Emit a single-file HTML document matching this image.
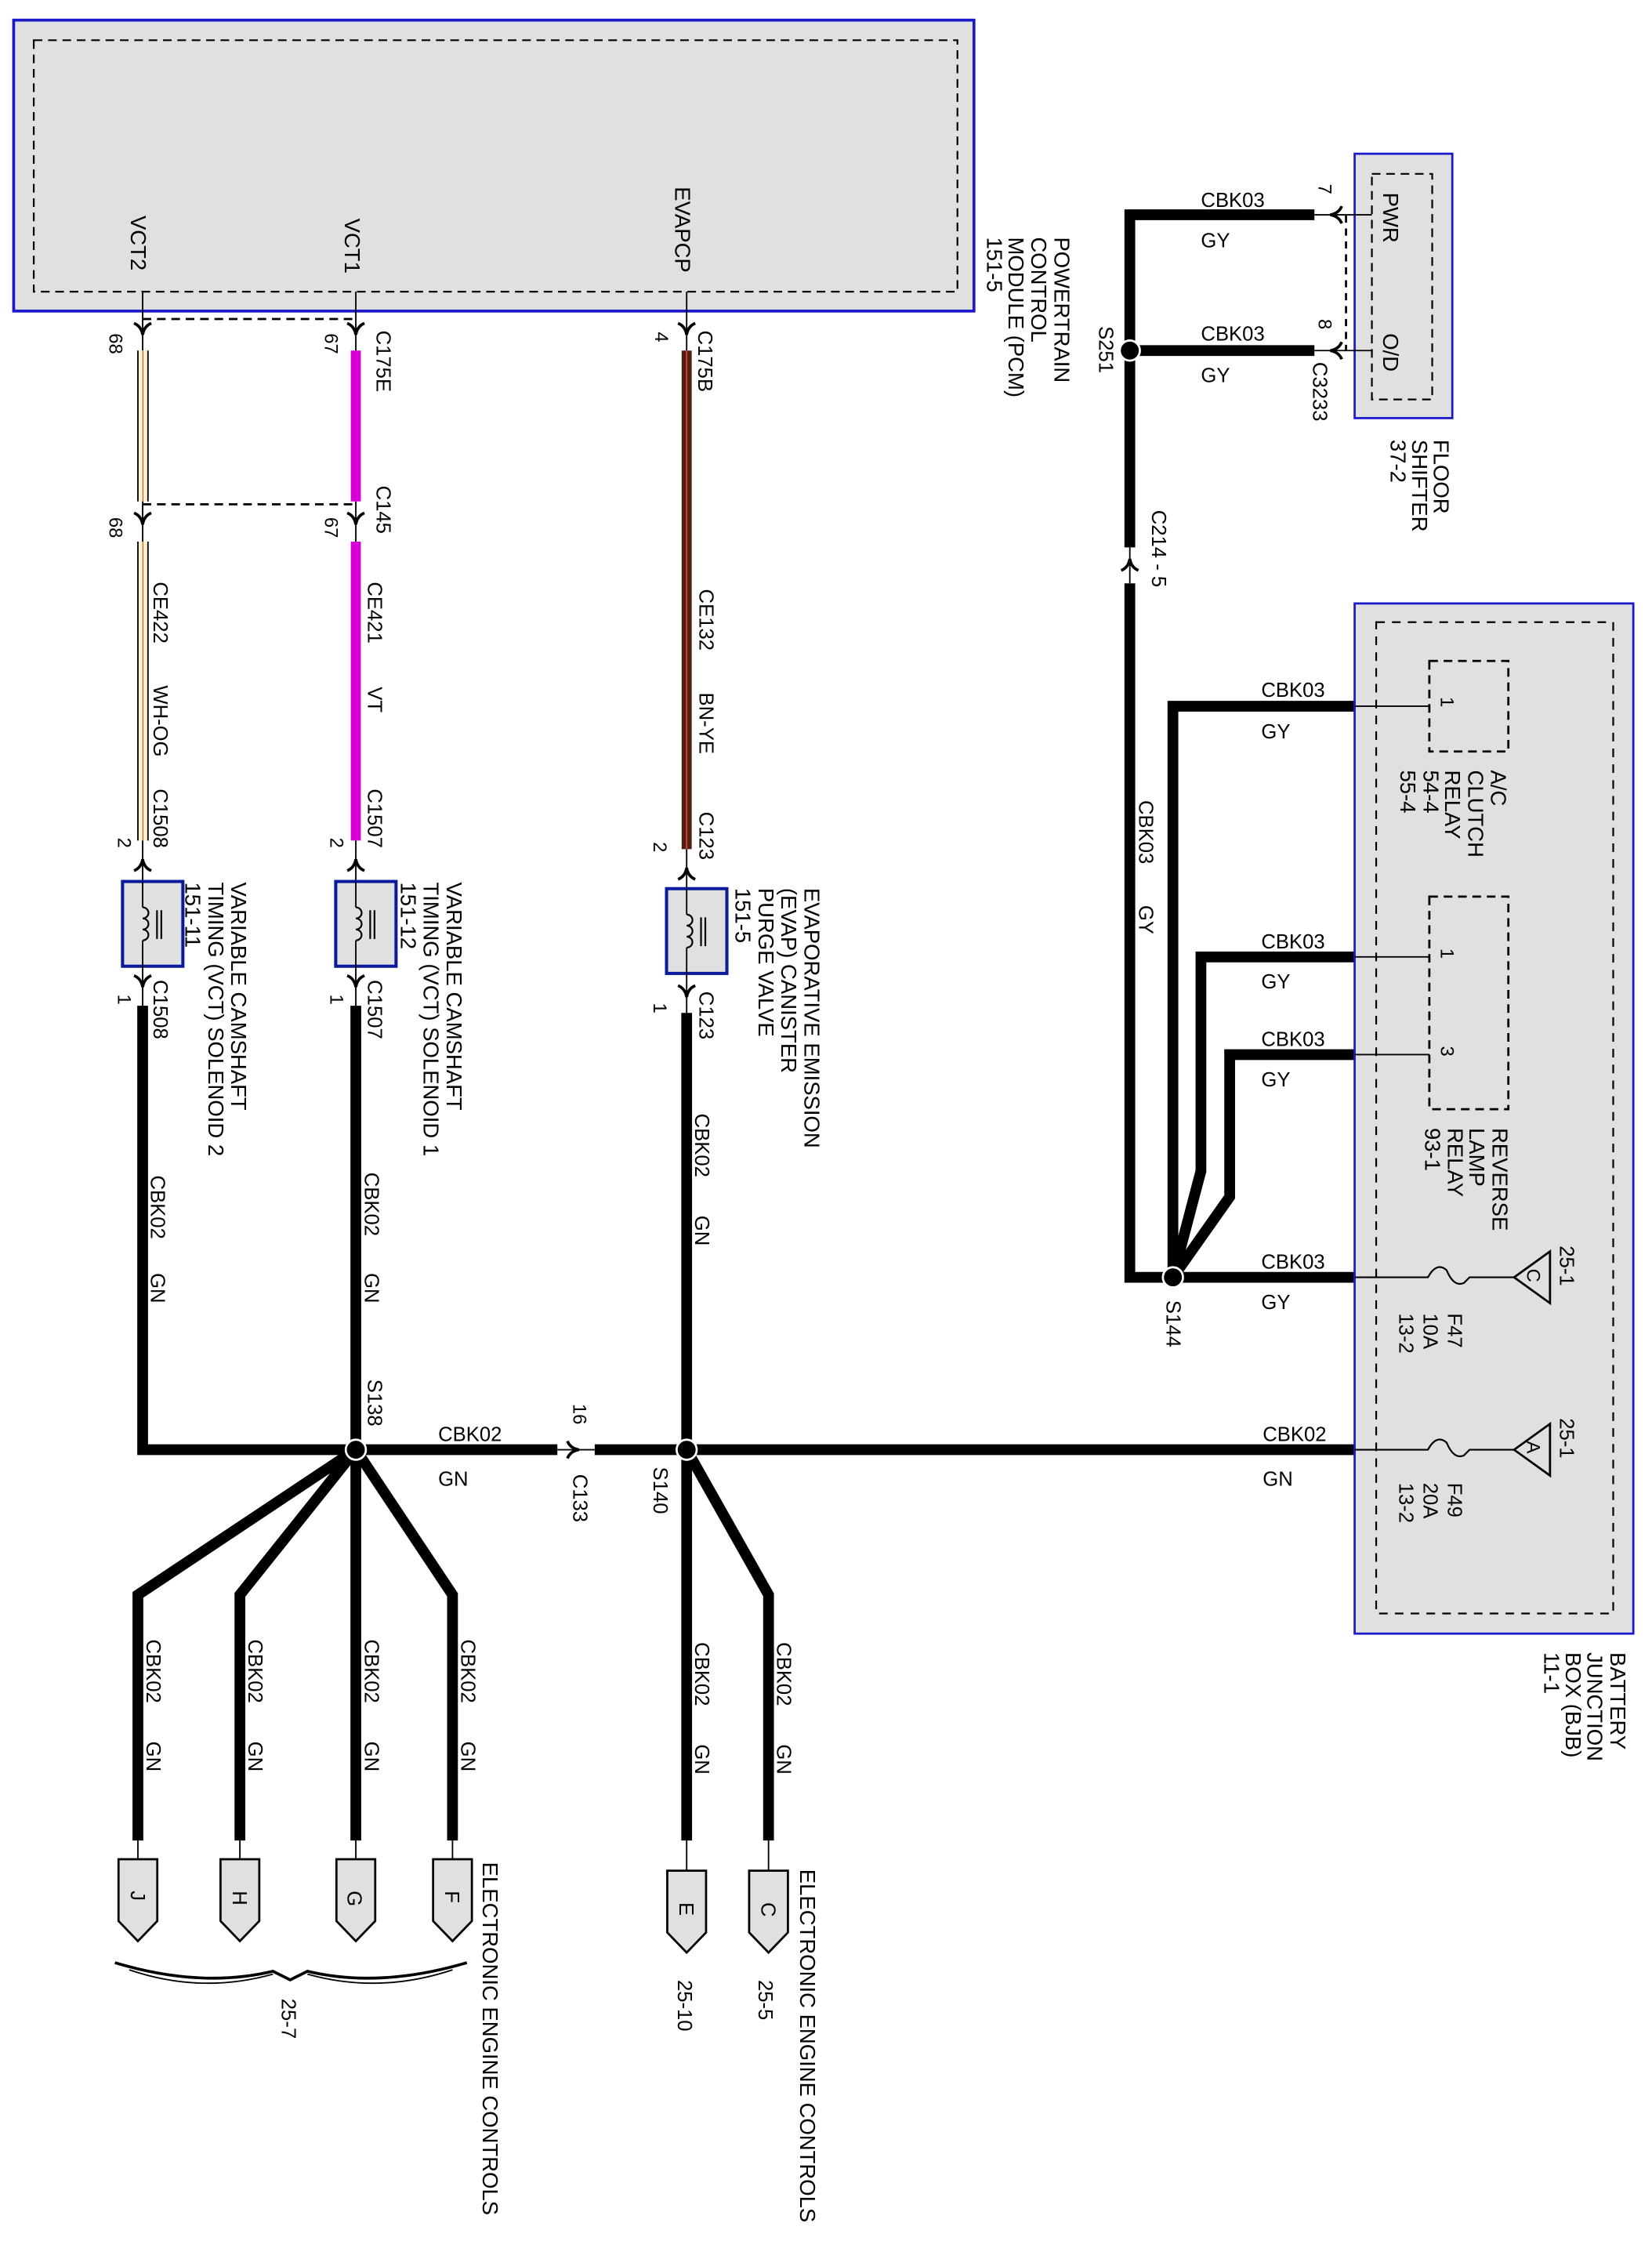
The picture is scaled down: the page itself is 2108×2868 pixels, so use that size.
<!DOCTYPE html>
<html><head><meta charset="utf-8"><style>
html,body{margin:0;padding:0;background:#fff}
svg{display:block}
text{font-family:"Liberation Sans",sans-serif;fill:#000}
.l{font-size:15px}
.w{font-size:14px}
.p{font-size:13px}
</style></head><body>
<svg width="2108" height="2868" viewBox="0 0 1150 1564.6" preserveAspectRatio="none" xmlns="http://www.w3.org/2000/svg">
<defs>
<g id="ad"><path d="M-6,-5 Q-1,-3 0,3 Q1,-3 6,-5" fill="none" stroke="#000" stroke-width="2"/></g>
<g id="au"><path d="M-6,5 Q-1,3 0,-3 Q1,3 6,5" fill="none" stroke="#000" stroke-width="2"/></g>
<g id="al"><path d="M5,-6 Q3,-1 -3,0 Q3,1 5,6" fill="none" stroke="#000" stroke-width="2"/></g>
<g id="ar"><path d="M-5,-6 Q-3,-1 3,0 Q-3,1 -5,6" fill="none" stroke="#000" stroke-width="2"/></g>
<g id="sol">
<rect x="-21" y="0" width="42" height="59" fill="#e0e0e0" stroke="#0a1a9a" stroke-width="2.2"/>
<path d="M-7,0 V18 M-7,41 V59" stroke="#000" stroke-width="1"/>
<path d="M-7,18 a4,3.8 0 0 1 0,7.7 a4,3.8 0 0 1 0,7.7 a4,3.8 0 0 1 0,7.6" fill="none" stroke="#000" stroke-width="1.2"/>
<path d="M3,20 V40 M6,20 V40" stroke="#000" stroke-width="1.2"/>
</g>
<g id="pent"><path d="M-13.5,0 H13.5 V43 L0,57 L-13.5,43 Z" fill="#e0e0e0" stroke="#000" stroke-width="1.5"/></g>
</defs>

<!-- PCM -->
<rect x="9.5" y="14" width="668.5" height="202.5" fill="#e0e0e0" stroke="#1a1acc" stroke-width="2"/>
<rect x="23.5" y="28" width="643" height="175" fill="none" stroke="#000" stroke-width="1.2" stroke-dasharray="6,4"/>
<text class="l" transform="translate(91,150) rotate(90)">VCT2</text>
<text class="l" transform="translate(240,152) rotate(90)">VCT1</text>
<text class="l" transform="translate(470,130) rotate(90)">EVAPCP</text>
<text class="l" transform="translate(734,165) rotate(90)">POWERTRAIN</text>
<text class="l" transform="translate(718,165) rotate(90)">CONTROL</text>
<text class="l" transform="translate(702,165) rotate(90)">MODULE (PCM)</text>
<text class="l" transform="translate(687,165) rotate(90)">151-5</text>

<path d="M99.3,203 V244 M247.7,203 V244 M478,203 V244" stroke="#000" stroke-width="1"/>
<path d="M99.3,222 H247.7" stroke="#000" stroke-width="1.5" stroke-dasharray="6,4"/>
<use href="#ad" x="99.3" y="230"/><use href="#ad" x="247.7" y="230"/><use href="#ad" x="478" y="230"/>
<text class="p" transform="translate(76,232) rotate(90)">68</text>
<text class="p" transform="translate(226,232) rotate(90)">67</text>
<text class="p" transform="translate(456,231) rotate(90)">4</text>
<text class="w" transform="translate(262,230) rotate(90)">C175E</text>
<text class="w" transform="translate(486,230) rotate(90)">C175B</text>

<rect x="96" y="244" width="7" height="105" fill="#fff3dc"/>
<path d="M96,244 V349 M103,244 V349" stroke="#000" stroke-width="1"/>
<path d="M99.5,244 V349" stroke="#e07020" stroke-width="0.8"/>
<rect x="244.2" y="244" width="7" height="105" fill="#d600d6"/>
<path d="M99.3,349 V377 M247.7,349 V377" stroke="#000" stroke-width="1"/>
<path d="M99.3,351 H247.7" stroke="#000" stroke-width="1.5" stroke-dasharray="6,4"/>
<use href="#ad" x="99.3" y="362"/><use href="#ad" x="247.7" y="362"/>
<text class="p" transform="translate(76,360) rotate(90)">68</text>
<text class="p" transform="translate(226,360) rotate(90)">67</text>
<text class="w" transform="translate(262,338) rotate(90)">C145</text>

<rect x="96" y="377" width="7" height="208" fill="#fff3dc"/>
<path d="M96,377 V585 M103,377 V585" stroke="#000" stroke-width="1"/>
<path d="M99.5,377 V585" stroke="#e07020" stroke-width="0.8"/>
<rect x="244.2" y="377" width="7" height="208" fill="#d600d6"/>
<rect x="474.5" y="244" width="7" height="347" fill="#4a2014"/>
<path d="M478,244 V591" stroke="#d04020" stroke-width="1.2"/>
<text class="w" transform="translate(107,405) rotate(90)">CE422</text>
<text class="w" transform="translate(107,477) rotate(90)">WH-OG</text>
<text class="w" transform="translate(107,549) rotate(90)">C1508</text>
<text class="w" transform="translate(256,405) rotate(90)">CE421</text>
<text class="w" transform="translate(256,478) rotate(90)">VT</text>
<text class="w" transform="translate(256,549) rotate(90)">C1507</text>
<text class="w" transform="translate(487,410) rotate(90)">CE132</text>
<text class="w" transform="translate(487,482) rotate(90)">BN-YE</text>
<text class="w" transform="translate(487,565) rotate(90)">C123</text>

<path d="M99.3,585 V613 M247.7,585 V613 M478,591 V618" stroke="#000" stroke-width="1"/>
<use href="#au" x="99.3" y="601"/><use href="#au" x="247.7" y="601"/><use href="#au" x="478" y="607"/>
<text class="p" transform="translate(82,583) rotate(90)">2</text>
<text class="p" transform="translate(230,583) rotate(90)">2</text>
<text class="p" transform="translate(455,586) rotate(90)">2</text>
<use href="#sol" x="106.3" y="613.5"/>
<use href="#sol" x="254.7" y="613.5"/>
<use href="#sol" x="485" y="618.5"/>
<path d="M99.3,672 V700 M247.7,672 V700 M478,678 V705" stroke="#000" stroke-width="1"/>
<use href="#ad" x="99.3" y="684"/><use href="#ad" x="247.7" y="684"/><use href="#ad" x="478" y="691"/>
<text class="p" transform="translate(82,692) rotate(90)">1</text>
<text class="p" transform="translate(230,692) rotate(90)">1</text>
<text class="p" transform="translate(455,698) rotate(90)">1</text>
<text class="w" transform="translate(107,682) rotate(90)">C1508</text>
<text class="w" transform="translate(256,682) rotate(90)">C1507</text>
<text class="w" transform="translate(487,690) rotate(90)">C123</text>
<text class="l" transform="translate(161,614) rotate(90)">VARIABLE CAMSHAFT</text>
<text class="l" transform="translate(145,614) rotate(90)">TIMING (VCT) SOLENOID 2</text>
<text class="l" transform="translate(129,614) rotate(90)">151-11</text>
<text class="l" transform="translate(311,614) rotate(90)">VARIABLE CAMSHAFT</text>
<text class="l" transform="translate(295,614) rotate(90)">TIMING (VCT) SOLENOID 1</text>
<text class="l" transform="translate(279,614) rotate(90)">151-12</text>
<text class="l" transform="translate(560,618) rotate(90)">EVAPORATIVE EMISSION</text>
<text class="l" transform="translate(544,618) rotate(90)">(EVAP) CANISTER</text>
<text class="l" transform="translate(528,618) rotate(90)">PURGE VALVE</text>
<text class="l" transform="translate(512,618) rotate(90)">151-5</text>

<g stroke="#000" stroke-width="7.5" fill="none" stroke-linejoin="miter">
<path d="M99.3,700 V1009 H388"/>
<path d="M247.7,700 V1009"/>
<path d="M478,705 V1009"/>
<path d="M414,1009 H943"/>
<path d="M247.7,1009 L96,1110 V1281"/>
<path d="M247.7,1009 L167,1110 V1281"/>
<path d="M247.7,1009 V1281"/>
<path d="M247.7,1009 L315,1110 V1281"/>
<path d="M478,1009 V1281"/>
<path d="M478,1009 L535,1110 V1281"/>
</g>
<path d="M388,1009 H414" stroke="#000" stroke-width="1"/>
<use href="#ar" x="400" y="1009"/>
<circle cx="247.7" cy="1009" r="7" fill="#000" stroke="#fff" stroke-width="1.5"/>
<circle cx="478" cy="1009" r="7" fill="#000" stroke="#fff" stroke-width="1.5"/>
<text class="w" transform="translate(105,818) rotate(90)">CBK02</text>
<text class="w" transform="translate(105,886) rotate(90)">GN</text>
<text class="w" transform="translate(254,816) rotate(90)">CBK02</text>
<text class="w" transform="translate(254,886) rotate(90)">GN</text>
<text class="w" transform="translate(484,775) rotate(90)">CBK02</text>
<text class="w" transform="translate(484,846) rotate(90)">GN</text>
<text class="w" transform="translate(256,960) rotate(90)">S138</text>
<text class="p" transform="translate(399,977) rotate(90)">16</text>
<text class="w" transform="translate(399,1026) rotate(90)">C133</text>
<text class="w" transform="translate(455,1021) rotate(90)">S140</text>
<text class="w" x="305" y="1003">CBK02</text>
<text class="w" x="305" y="1034">GN</text>
<text class="w" x="879" y="1003">CBK02</text>
<text class="w" x="879" y="1034">GN</text>

<text class="w" transform="translate(102,1141) rotate(90)">CBK02</text>
<text class="w" transform="translate(102,1212) rotate(90)">GN</text>
<text class="w" transform="translate(173,1141) rotate(90)">CBK02</text>
<text class="w" transform="translate(173,1212) rotate(90)">GN</text>
<text class="w" transform="translate(254,1141) rotate(90)">CBK02</text>
<text class="w" transform="translate(254,1212) rotate(90)">GN</text>
<text class="w" transform="translate(321,1141) rotate(90)">CBK02</text>
<text class="w" transform="translate(321,1212) rotate(90)">GN</text>
<text class="w" transform="translate(484,1143) rotate(90)">CBK02</text>
<text class="w" transform="translate(484,1214) rotate(90)">GN</text>
<text class="w" transform="translate(541,1143) rotate(90)">CBK02</text>
<text class="w" transform="translate(541,1214) rotate(90)">GN</text>

<path d="M96,1281 V1294 M167,1281 V1294 M247.7,1281 V1294 M315,1281 V1294 M478,1281 V1302 M535,1281 V1302" stroke="#000" stroke-width="1"/>
<use href="#pent" x="96" y="1294"/><use href="#pent" x="167" y="1294"/><use href="#pent" x="247.7" y="1294"/><use href="#pent" x="315" y="1294"/>
<use href="#pent" x="478" y="1302"/><use href="#pent" x="535" y="1302"/>
<text class="w" transform="translate(91,1316) rotate(90)">J</text>
<text class="w" transform="translate(162,1316) rotate(90)">H</text>
<text class="w" transform="translate(242,1316) rotate(90)">G</text>
<text class="w" transform="translate(310,1316) rotate(90)">F</text>
<text class="w" transform="translate(473,1324) rotate(90)">E</text>
<text class="w" transform="translate(530,1324) rotate(90)">C</text>
<path d="M80,1366 Q140,1384 190,1372 L202,1378 L214,1372 Q264,1384 325,1366" fill="none" stroke="#000" stroke-width="2"/>
<path d="M90,1371 Q140,1388 190,1374 M214,1374 Q264,1388 315,1371" fill="none" stroke="#000" stroke-width="1"/>
<text class="w" transform="translate(196,1391) rotate(90)">25-7</text>
<text class="w" transform="translate(472,1378) rotate(90)">25-10</text>
<text class="w" transform="translate(528,1378) rotate(90)">25-5</text>
<text class="l" transform="translate(336,1296) rotate(90)">ELECTRONIC ENGINE CONTROLS</text>
<text class="l" transform="translate(557,1301) rotate(90)">ELECTRONIC ENGINE CONTROLS</text>

<rect x="943" y="107" width="68" height="184" fill="#e0e0e0" stroke="#1a1acc" stroke-width="1.5"/>
<rect x="955" y="121" width="42" height="157" fill="none" stroke="#000" stroke-width="1.2" stroke-dasharray="6,4"/>
<text class="l" transform="translate(963,134) rotate(90)">PWR</text>
<text class="l" transform="translate(963,232) rotate(90)">O/D</text>
<text class="l" transform="translate(998,306) rotate(90)">FLOOR</text>
<text class="l" transform="translate(983,306) rotate(90)">SHIFTER</text>
<text class="l" transform="translate(968,306) rotate(90)">37-2</text>
<path d="M915,149.5 H955 M915,244 H955" stroke="#000" stroke-width="1"/>
<path d="M937,150 V244" stroke="#000" stroke-width="1.5" stroke-dasharray="5,4"/>
<use href="#al" x="929" y="149.5"/><use href="#al" x="929" y="244"/>
<text class="p" transform="translate(918,128) rotate(90)">7</text>
<text class="p" transform="translate(918,222) rotate(90)">8</text>
<text class="w" transform="translate(914,252) rotate(90)">C3233</text>
<text class="w" x="836" y="144">CBK03</text>
<text class="w" x="836" y="172">GY</text>
<text class="w" x="836" y="237">CBK03</text>
<text class="w" x="836" y="266">GY</text>

<g stroke="#000" stroke-width="7.5" fill="none">
<path d="M915,149.5 H786.5 V381"/>
<path d="M915,244 H786.5"/>
<path d="M786.5,406 V889 H943"/>
<path d="M943,491.5 H816.5 V889"/>
<path d="M943,666 H836 V815 L816.5,889"/>
<path d="M943,734 H856 V833 L816.5,889"/>
</g>
<path d="M786.5,381 V406" stroke="#000" stroke-width="1"/>
<use href="#au" x="786.5" y="392"/>
<circle cx="786.5" cy="244" r="7" fill="#000" stroke="#fff" stroke-width="1.5"/>
<text class="w" transform="translate(765,227) rotate(90)">S251</text>
<text class="w" transform="translate(802,355) rotate(90)">C214 - 5</text>
<text class="w" transform="translate(793,557) rotate(90)">CBK03</text>
<text class="w" transform="translate(793,630) rotate(90)">GY</text>

<rect x="943" y="420" width="194" height="717" fill="#e0e0e0" stroke="#1a1acc" stroke-width="1.5"/>
<rect x="958" y="433" width="165" height="690" fill="none" stroke="#000" stroke-width="1.2" stroke-dasharray="6,5"/>
<rect x="995" y="460" width="55" height="63" fill="none" stroke="#000" stroke-width="1.5" stroke-dasharray="6,4"/>
<rect x="995" y="624" width="55" height="148" fill="none" stroke="#000" stroke-width="1.5" stroke-dasharray="6,4"/>
<path d="M943,491.5 H995 M943,666 H995 M943,734 H995" stroke="#000" stroke-width="1"/>
<text class="p" transform="translate(1003,485) rotate(90)">1</text>
<text class="p" transform="translate(1003,660) rotate(90)">1</text>
<text class="p" transform="translate(1003,728) rotate(90)">3</text>
<circle cx="816.5" cy="889" r="7" fill="#000" stroke="#fff" stroke-width="1.5"/>
<text class="w" transform="translate(812,905) rotate(90)">S144</text>
<text class="w" x="878" y="485">CBK03</text>
<text class="w" x="878" y="514">GY</text>
<text class="w" x="878" y="660">CBK03</text>
<text class="w" x="878" y="688">GY</text>
<text class="w" x="878" y="728">CBK03</text>
<text class="w" x="878" y="756">GY</text>
<text class="w" x="878" y="883">CBK03</text>
<text class="w" x="878" y="911">GY</text>
<text class="l" transform="translate(1038,536) rotate(90)">A/C</text>
<text class="l" transform="translate(1022,536) rotate(90)">CLUTCH</text>
<text class="l" transform="translate(1006,536) rotate(90)">RELAY</text>
<text class="l" transform="translate(991,536) rotate(90)">54-4</text>
<text class="l" transform="translate(975,536) rotate(90)">55-4</text>
<text class="l" transform="translate(1039,785) rotate(90)">REVERSE</text>
<text class="l" transform="translate(1023,785) rotate(90)">LAMP</text>
<text class="l" transform="translate(1008,785) rotate(90)">RELAY</text>
<text class="l" transform="translate(992,785) rotate(90)">93-1</text>
<g fill="none" stroke="#000" stroke-width="1.2">
<path d="M943,889 H994 Q1000,878 1007,884 Q1012,896 1019,893 Q1022,890 1023,889 H1054"/>
<path d="M943,1009 H994 Q1000,998 1007,1004 Q1012,1016 1019,1013 Q1022,1010 1023,1009 H1054"/>
<path d="M1054,889 L1079,871 V907 Z" stroke-width="1.5"/>
<path d="M1054,1009 L1079,991 V1027 Z" stroke-width="1.5"/>
</g>
<text class="p" transform="translate(1063,883) rotate(90)">C</text>
<text class="p" transform="translate(1063,1003) rotate(90)">A</text>
<text class="w" transform="translate(1086,867) rotate(90)">25-1</text>
<text class="w" transform="translate(1086,987) rotate(90)">25-1</text>
<text class="w" transform="translate(1008,914) rotate(90)">F47</text>
<text class="w" transform="translate(991,914) rotate(90)">10A</text>
<text class="w" transform="translate(974,914) rotate(90)">13-2</text>
<text class="w" transform="translate(1008,1032) rotate(90)">F49</text>
<text class="w" transform="translate(991,1032) rotate(90)">20A</text>
<text class="w" transform="translate(974,1032) rotate(90)">13-2</text>
<text class="l" transform="translate(1121,1150) rotate(90)">BATTERY</text>
<text class="l" transform="translate(1105,1150) rotate(90)">JUNCTION</text>
<text class="l" transform="translate(1090,1150) rotate(90)">BOX (BJB)</text>
<text class="l" transform="translate(1075,1150) rotate(90)">11-1</text>
</svg>
</body></html>
